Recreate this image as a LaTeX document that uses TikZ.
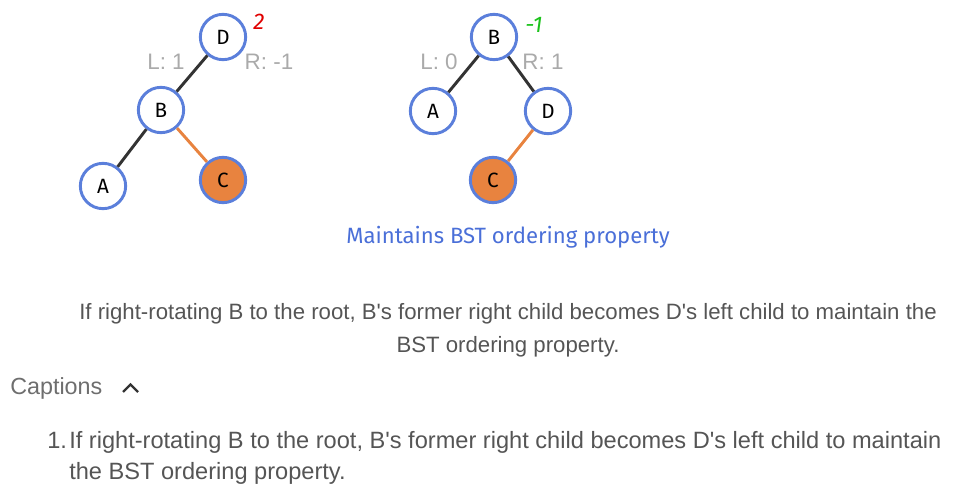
\documentclass[tikz,border=0pt]{standalone}
\usepackage{fontspec}
\setmainfont{Liberation Sans}
\newfontfamily\treefont{Fira Sans}
\usetikzlibrary{positioning}
\definecolor{nodeblue}{HTML}{5B7FDB}
\definecolor{nodeorange}{HTML}{E8833F}
\definecolor{edgedark}{HTML}{333333}
\definecolor{balred}{HTML}{E00000}
\definecolor{balgreen}{HTML}{1CC31C}
\definecolor{hgray}{HTML}{AAAAAA}
\definecolor{textgray}{HTML}{555555}
\definecolor{capblue}{HTML}{4A6FD8}
\newcommand{\apos}{\textquotesingle}

\begin{document}
\begin{tikzpicture}[x=0.75pt, y=-0.75pt,
  treenode/.style={circle, draw=nodeblue, line width=2.2pt, fill=white,
    minimum size=34pt, inner sep=0pt, font=\treefont\fontsize{15.5}{15.5}\selectfont},
  moved/.style={treenode, fill=nodeorange},
  edge/.style={draw=edgedark, line width=2.2pt},
  movededge/.style={draw=nodeorange, line width=2.2pt},
  hlabel/.style={text=hgray, font=\fontsize{16.8}{16.8}\selectfont},
  bal/.style={font=\treefont\itshape\fontsize{17}{17}\selectfont},
  body/.style={text=textgray, inner sep=0pt}]
\useasboundingbox (0,0) rectangle (969,498);

% left tree: before rotation
\node (lD) [treenode] at (223,37) {D};
\node (lB) [treenode] at (161,110) {B};
\node (lA) [treenode] at (103,186) {A};
\node (lC) [moved] at (223,180) {C};
\draw[edge] (lD) -- (lB);
\draw[edge] (lB) -- (lA);
\draw[movededge] (lB) -- (lC);
\node (lbal) [bal, text=balred] at (259,22) {2};
\node (lL) [hlabel] at (166,62) {L: 1};
\node (lR) [hlabel] at (269,62) {R: -1};

% right tree: after rotation
\node (rB) [treenode] at (494,37) {B};
\node (rA) [treenode] at (433,111) {A};
\node (rD) [treenode] at (548,111) {D};
\node (rC) [moved] at (493,180) {C};
\draw[edge] (rB) -- (rA);
\draw[edge] (rB) -- (rD);
\draw[movededge] (rD) -- (rC);
\node (rbal) [bal, text=balgreen] at (534,25) {-1};
\node (rL) [hlabel] at (439,62) {L: 0};
\node (rR) [hlabel] at (543,62) {R: 1};

\node (keep) [text=capblue, font=\treefont\fontsize{16.6}{16.6}\selectfont] at (508,237)
  {Maintains BST ordering property};

% caption text
\node (para) [body, align=center, anchor=base, font=\fontsize{16.65}{24.75}\selectfont] at (508,353)
  {If right-rotating B to the root, B\apos s former right child becomes D\apos s left child to maintain the\\
   BST ordering property.};
\node (capt) [body, text=textgray!85, font=\fontsize{17.5}{17.5}\selectfont, anchor=base west] at (10,394) {Captions};
\coordinate (chl) at (123,392);
\coordinate (cht) at (130.5,384.5);
\coordinate (chr) at (138,392);
\draw[edgedark, line width=1.8pt] (chl) -- (cht) -- (chr);
\node (num) [body, anchor=base west, font=\fontsize{17.7}{23.25}\selectfont] at (47,448) {1.};
\node (item) [body, anchor=base west, align=left,
  font=\fontsize{17.7}{23.25}\selectfont] at (69,479)
  {If right-rotating B to the root, B\apos s former right child becomes D\apos s left child to maintain\\
   the BST ordering property.};
\end{tikzpicture}
\end{document}
